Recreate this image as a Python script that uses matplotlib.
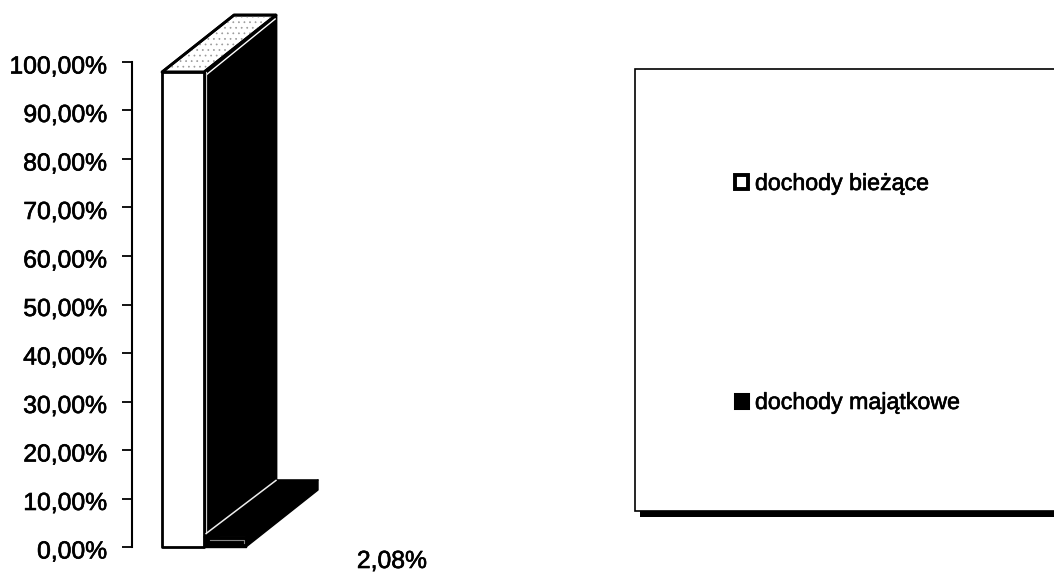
import matplotlib
matplotlib.use("Agg")
import matplotlib.pyplot as plt
import matplotlib.patheffects as pe
from matplotlib.patches import Polygon, Rectangle, Patch
from matplotlib.transforms import ScaledTranslation

plt.rcParams['font.family'] = ['Liberation Sans', 'DejaVu Sans']

series_names = ["dochody bieżące", "dochody majątkowe"]
series_values = [97.92, 2.08]
y_ticks = [0, 10, 20, 30, 40, 50, 60, 70, 80, 90, 100]

W, H = 1054, 572
fig = plt.figure(figsize=(W / 100, H / 100), dpi=100, facecolor="white")
ax = fig.add_axes([132 / W, 1 - 547 / H, 198 / W, 485 / H])
ax.set_xlim(-51 / 42, 147 / 42)
ax.set_ylim(0, 100)
ax.patch.set_alpha(0)
for s in ("top", "right", "bottom"):
    ax.spines[s].set_visible(False)
ax.spines["left"].set_linewidth(1.5)
ax.set_xticks([])
ax.set_yticks(y_ticks)
ax.set_yticklabels([f"{t},00%" for t in y_ticks], fontsize=17.8)
ax.tick_params(axis="y", length=7.2, width=1.3, pad=10.5)
heavy = [pe.withStroke(linewidth=0.45, foreground="black")]
for lab in ax.get_yticklabels():
    lab.set_transform(lab.get_transform() + ScaledTranslation(0, -2.0 / 100, fig.dpi_scale_trans))
    lab.set_path_effects(heavy)

DX, DY = 72 / 42, 57 / 4.85   # 3-D depth of the bars in data units
BW = 1.0


def prism(x, v, front, top, side, z, lw=1.6):
    l, r = x - BW / 2, x + BW / 2
    common = dict(clip_on=False, joinstyle="round", linewidth=lw, edgecolor="black")
    ax.add_patch(Polygon([(r, 0), (r + DX, DY), (r + DX, v + DY), (r, v)], facecolor=side, zorder=z, **common))
    ax.add_patch(Polygon([(l, v), (l + DX, v + DY), (r + DX, v + DY), (r, v)], facecolor=top, zorder=z, **common))
    ax.add_patch(Rectangle((l, 0), BW, v, facecolor=front, zorder=z + 0.1, **common))


# first bar
prism(0, series_values[0], "white", "white", "black", 2, lw=2.0)
l, r = -BW / 2, BW / 2
v = series_values[0]
plt.rcParams['hatch.linewidth'] = 0.5
ax.add_patch(Polygon([(l, v), (l + DX, v + DY), (r + DX, v + DY), (r, v)], facecolor="none",
                     edgecolor="#9a9a9a", hatch="...", linewidth=0, zorder=2.05, clip_on=False))
ax.add_patch(Polygon([(l, v), (l + DX, v + DY), (r + DX, v + DY), (r, v)], facecolor="none",
                     edgecolor="black", linewidth=2.0, zorder=2.06, clip_on=False))
ax.plot([r + 0.05, r + DX - 0.02], [v - 0.6, v + DY - 0.8], color="white", lw=1.0, zorder=2.07, clip_on=False)
ax.plot([r + 0.04, r + 0.04], [series_values[1] + 0.5, v], color="#cccccc", lw=0.9, zorder=2.07, clip_on=False)

# second bar
prism(1, series_values[1], "black", "black", "black", 3, lw=1.0)
v2 = series_values[1]
ax.plot([0.55, 0.5 + DX], [v2 + 0.7, v2 + DY - 0.1], color="#eeeeee", lw=1.1, zorder=4, clip_on=False)
ax.plot([0.65, 1.45, 1.45], [v2 - 0.6, v2 - 0.6, v2 - 1.3], color="#888888", lw=0.8, zorder=4, clip_on=False)

# value label
fig.text(392 / W, 1 - 568 / H, f"{series_values[1]:.2f}%".replace(".", ","), fontsize=17.8,
         ha="center", va="baseline", path_effects=heavy)

# legend box
fig.add_artist(Rectangle((640 / W, 1 - 517 / H), (W - 640) / W, 6 / H, transform=fig.transFigure,
                         facecolor="black", edgecolor="none"))
fig.add_artist(Rectangle((634.5 / W, 1 - 511 / H), (W + 20 - 634) / W, 442 / H, transform=fig.transFigure,
                         facecolor="white", edgecolor="black", linewidth=1.2))
handles = [Patch(facecolor="white", edgecolor="black", linewidth=2.8),
           Patch(facecolor="black", edgecolor="black", linewidth=2.2)]
leg = fig.legend(handles, series_names, loc="upper left", bbox_to_anchor=(735 / W, 1 - 172 / H),
                 bbox_transform=fig.transFigure, frameon=False, fontsize=16.7, borderpad=0, borderaxespad=0,
                 handlelength=0.56, handleheight=0.58, handletextpad=0.3, labelspacing=8.45)
leg.set_zorder(10)
for t in leg.get_texts():
    t.set_path_effects(heavy)

fig.savefig("out.png", dpi=100)
